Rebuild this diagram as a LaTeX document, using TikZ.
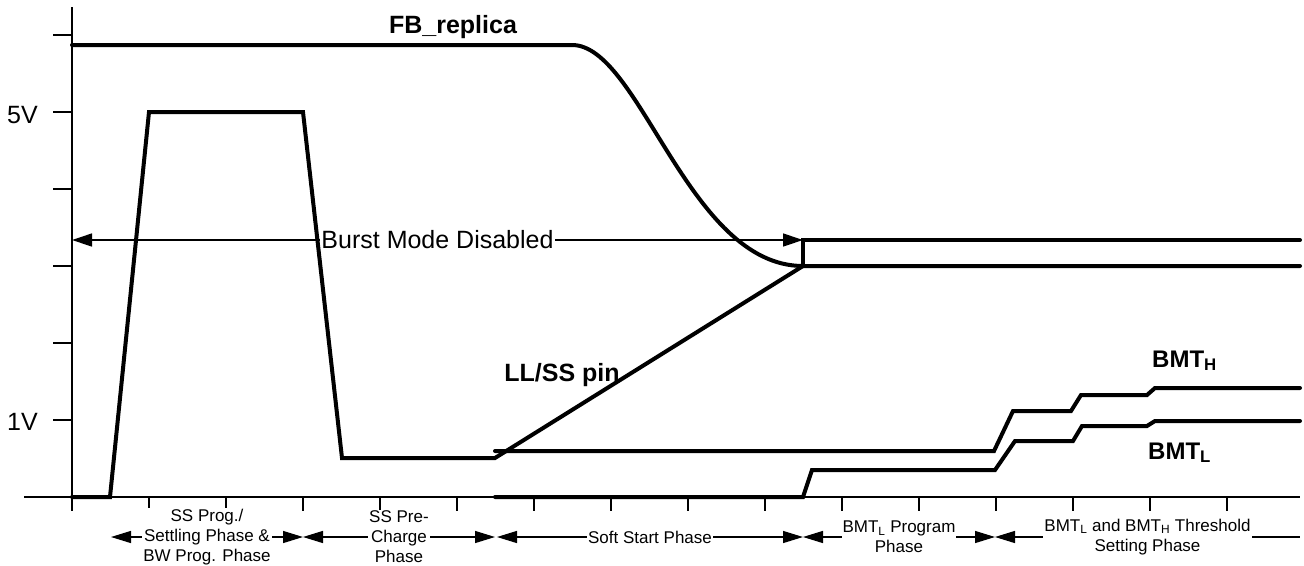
\documentclass[tikz,border=0pt]{standalone}
\usepackage{fontspec}
\setmainfont{Liberation Sans}
\usetikzlibrary{arrows.meta}
\begin{document}
\begin{tikzpicture}[x=1pt,y=-1pt,
  axisline/.style={line width=1.3pt},
  sig/.style={line width=4pt, line join=miter, line cap=round},
  bothtips/.style={{Triangle[length=20pt,width=12pt]}-{Triangle[length=20pt,width=12pt]}},
  lefttip/.style={{Triangle[length=20pt,width=12pt]}-},
  dimline/.style={line width=1.3pt},
  biglabel/.style={font=\fontsize{25}{30}\selectfont, inner sep=0pt},
  boldlabel/.style={font=\fontsize{25}{30}\selectfont\bfseries, inner sep=0pt},
  bmtlabel/.style={font=\fontsize{24}{28}\selectfont\bfseries, inner sep=0pt, anchor=base west},
  phaselabel/.style={font=\fontsize{17}{20}\selectfont, align=center, fill=white, inner xsep=1pt, inner ysep=1pt}
]
\useasboundingbox (0,0) rectangle (1304,565);

% axes
\draw[axisline] (72,7) -- (72,511);
\draw[axisline] (24,497) -- (1300,497);
\foreach \y in {35,112,189,266,343,420} \draw[axisline] (53,\y) -- (72,\y);
\foreach \x in {149,226,303,380,457,534,611,688,765,842,919,996,1073,1150,1227}
  \draw[axisline] (\x,497) -- (\x,511);

% axis labels
\node[biglabel, anchor=base east] (v5) at (38,123) {5V};
\node[biglabel, anchor=base east] (v1) at (38,430) {1V};

% Burst mode arrow
\coordinate (bmL) at (72,240);
\coordinate (bmR) at (803,240);
\draw[dimline, {Triangle[length=20pt,width=13pt]}-{Triangle[length=20pt,width=13pt]}] (bmL) -- (bmR)
  node[midway, biglabel, fill=white, inner xsep=1pt] (bmtext) {Burst Mode Disabled};

% signals
\draw[sig] (72,497) -- (110,497) -- (149,112) -- (303,112) -- (342,458) -- (495,458) -- (803,266);
\draw[sig] (72,45) -- (572,45) .. controls (640,45) and (688,266) .. (803,266) -- (1300,266);
\draw[sig] (803,266) -- (803,240) -- (1300,240);
\draw[sig] (495,451) -- (994,451) -- (1013,411) -- (1071,411) -- (1081,395) -- (1147,395) -- (1155,388) -- (1300,388);
\draw[sig] (495,497) -- (803,497) -- (812,470) -- (995,470) -- (1015,441) -- (1073,441) -- (1082,426) -- (1147,426) -- (1155,421) -- (1300,421);

% signal labels
\node[boldlabel, anchor=base] (fb) at (453,33) {FB\_replica};
\node[boldlabel, anchor=base] (ll) at (562,381) {LL/SS pin};
\node[bmtlabel] (bmth) at (1152,367) {BMT\textsubscript{H}};
\node[bmtlabel] (bmtl) at (1148,459) {BMT\textsubscript{L}};

% phase arrows
\coordinate (p0) at (111,537);
\coordinate (p1) at (303,537);
\coordinate (p2) at (495,537);
\coordinate (p2b) at (497,537);
\coordinate (p3) at (803,537);
\coordinate (p4) at (995,537);
\coordinate (p5) at (1300,537);
\draw[dimline, bothtips] (p0) -- (p1) node[midway, phaselabel] (ph1) {SS Prog./\\Settling Phase \&\\BW Prog. Phase};
\draw[dimline, bothtips] (p1) -- (p2) node[midway, phaselabel] (ph2) {SS Pre-\\Charge\\Phase};
\draw[dimline, bothtips] (p2b) -- (p3) node[midway, phaselabel] (ph3) {Soft Start Phase};
\draw[dimline, bothtips] (p3) -- (p4) node[midway, phaselabel] (ph4) {BMT\textsubscript{L} Program\\Phase};
\draw[dimline, lefttip] (p4) -- (p5) node[midway, phaselabel] (ph5) {BMT\textsubscript{L} and BMT\textsubscript{H} Threshold\\Setting Phase};
\end{tikzpicture}
\end{document}
